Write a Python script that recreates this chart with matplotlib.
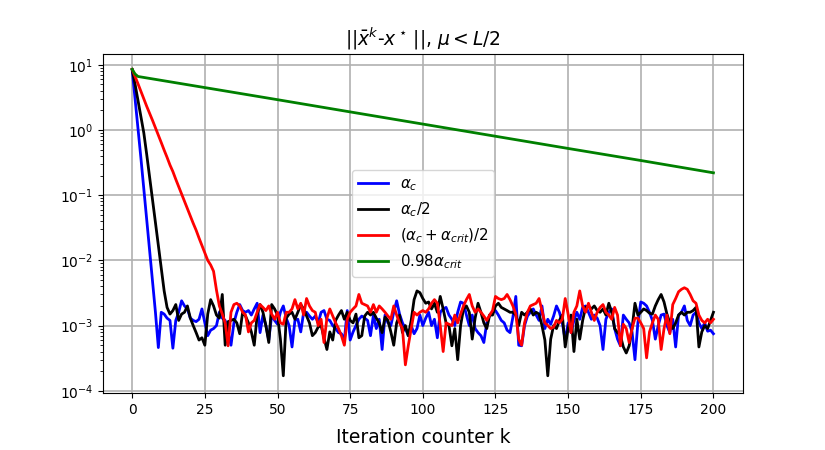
import numpy as np
import matplotlib
matplotlib.use("Agg")
import matplotlib.pyplot as plt

# values, error values per iteration k = 0..200
k = np.arange(201)

# alpha_c  (values after k=9 given in units of 1e-3)
blue_start = [8.4, 3.0, 1.1, 0.37, 0.125, 0.042, 0.014, 0.0047, 0.0016, 0.00046]
blue_rest = [
    1.6, 1.5, 1.3, 1.2, 0.45, 1.2, 1.6, 2.4, 2.0, 1.8,          # 10-19
    1.3, 1.2, 1.15, 1.25, 1.8, 1.1, 0.7, 0.85, 0.9, 1.0,        # 20-29
    1.6, 1.3, 1.2, 0.8, 0.5, 1.1, 1.6, 2.1, 1.7, 1.6,           # 30-39
    1.7, 1.45, 1.8, 2.2, 0.78, 1.45, 1.0, 0.6, 1.45, 1.2,       # 40-49
    1.05, 1.6, 2.0, 1.3, 1.0, 0.47, 1.2, 1.25, 0.8, 1.6,        # 50-59
    1.6, 1.4, 1.25, 1.4, 1.1, 1.6, 1.7, 1.25, 1.2, 1.0,         # 60-69
    0.9, 0.78, 0.75, 0.6, 1.7, 0.6, 0.8, 1.0, 1.25, 1.4,        # 70-79
    1.3, 1.2, 0.7, 1.45, 0.9, 1.25, 0.43, 1.45, 1.1, 1.0,       # 80-89
    1.6, 2.4, 1.5, 1.1, 0.9, 0.7, 1.0, 0.75, 0.9, 1.45,         # 90-99
    1.0, 1.3, 1.6, 1.0, 1.25, 0.65, 1.6, 1.8, 1.9, 1.45,        # 100-109
    1.25, 1.0, 1.6, 2.3, 2.2, 1.45, 1.0, 1.45, 0.9, 0.78,       # 110-119
    0.7, 0.55, 1.1, 1.45, 1.6, 1.7, 1.45, 1.2, 1.1, 0.85,       # 120-129
    0.78, 1.35, 2.8, 0.5, 0.49, 1.0, 1.4, 1.6, 1.8, 1.45,       # 130-139
    1.2, 2.0, 0.9, 1.25, 1.05, 1.4, 2.0, 1.6, 1.1, 0.6,         # 140-149
    1.1, 0.78, 1.2, 1.6, 1.25, 1.9, 2.0, 1.6, 1.25, 1.45,       # 150-159
    1.3, 1.0, 0.43, 1.25, 1.6, 1.8, 0.9, 0.62, 0.49, 1.45,      # 160-169
    1.25, 1.1, 0.8, 0.3, 1.1, 2.3, 2.2, 2.0, 1.6, 1.2,          # 170-179
    0.62, 1.0, 1.45, 1.5, 1.0, 0.78, 1.25, 0.47, 1.45, 1.6,     # 180-189
    2.0, 1.2, 1.0, 1.45, 1.6, 1.1, 0.9, 1.1, 0.82, 0.85,        # 190-199
    0.75,                                                       # 200
]

# alpha_c / 2
black_start = [8.4, 5.0, 2.8, 1.6, 0.9, 0.42, 0.19, 0.085, 0.038, 0.017,
               0.0075, 0.0034]
black_rest = [
    1.9, 1.5, 1.7, 2.1, 1.2, 1.5, 1.6, 2.0,                     # 12-19
    1.3, 1.0, 0.78, 0.6, 0.65, 0.5, 1.5, 2.5, 2.0, 1.45,        # 20-29
    1.3, 3.0, 0.5, 1.15, 1.2, 1.25, 1.1, 0.75, 1.6, 1.4,        # 30-39
    1.1, 0.8, 0.5, 1.45, 2.1, 1.6, 1.0, 0.55, 2.1, 1.8,         # 40-49
    1.45, 0.62, 0.17, 1.3, 1.5, 1.6, 1.25, 1.6, 2.1, 1.8,       # 50-59
    1.4, 1.1, 0.7, 0.78, 0.95, 1.0, 0.65, 0.43, 0.8, 0.6,       # 60-69
    1.2, 1.45, 1.7, 1.25, 1.6, 1.2, 1.1, 1.5, 0.65, 0.7,        # 70-79
    1.4, 1.6, 1.45, 1.6, 1.3, 1.1, 0.78, 1.35, 1.2, 0.8,        # 80-89
    0.5, 1.1, 1.45, 0.78, 1.0, 0.7, 1.2, 2.5, 3.4, 3.2,         # 90-99
    2.6, 2.2, 2.3, 1.8, 2.2, 1.6, 2.8, 1.8, 1.1, 1.0,           # 100-109
    0.49, 0.9, 0.3, 1.0, 1.8, 2.0, 1.6, 0.62, 1.3, 2.2,         # 110-119
    1.6, 1.1, 0.9, 1.45, 1.45, 2.0, 2.2, 1.9, 1.8, 1.7,         # 120-129
    1.6, 1.6, 1.45, 1.0, 1.6, 1.45, 1.6, 1.8, 1.45, 1.6,        # 130-139
    1.5, 1.0, 0.6, 0.17, 0.62, 1.0, 0.9, 1.2, 1.45, 0.47,       # 140-149
    0.9, 1.45, 0.4, 1.25, 0.62, 1.2, 1.9, 2.0, 1.8, 2.0,        # 150-159
    1.7, 1.6, 1.8, 1.45, 2.2, 1.6, 0.9, 0.78, 0.7, 0.47,        # 160-169
    0.38, 0.49, 0.9, 2.2, 1.45, 1.6, 1.8, 1.7, 1.55, 1.5,       # 170-179
    2.0, 2.5, 3.0, 2.3, 1.5, 1.1, 0.9, 1.1, 1.45, 1.6,          # 180-189
    1.45, 1.6, 1.6, 1.7, 1.9, 0.47, 0.8, 1.0, 0.9, 1.2,         # 190-199
    1.6,                                                        # 200
]

# (alpha_c + alpha_crit) / 2
red_start = [8.5, 6.6, 5.1, 3.9, 3.0, 2.3, 1.8, 1.4, 1.08, 0.83,
             0.64, 0.49, 0.38, 0.29, 0.23, 0.175, 0.135, 0.104, 0.080, 0.062,
             0.048, 0.037, 0.029, 0.022, 0.017, 0.013, 0.010, 0.0085, 0.0068,
             0.0035]
red_rest = [
    2.0, 1.5, 1.1, 0.49, 1.6, 2.1, 2.2, 2.0, 1.6, 1.45,         # 30-39
    0.8, 1.1, 1.2, 1.6, 2.1, 1.9, 1.7, 2.0, 1.5, 1.25,          # 40-49
    1.6, 1.1, 1.05, 1.6, 1.6, 1.8, 2.5, 1.8, 2.2, 1.45,         # 50-59
    2.6, 2.0, 1.7, 1.6, 1.0, 1.25, 0.55, 1.3, 1.8, 1.4,         # 60-69
    1.1, 0.9, 0.7, 0.5, 1.25, 1.6, 1.8, 2.0, 3.0, 2.2,          # 70-79
    2.1, 2.0, 1.6, 2.1, 1.6, 2.0, 1.8, 1.6, 1.4, 1.25,          # 80-89
    2.0, 1.45, 1.1, 0.9, 0.25, 0.49, 0.9, 1.6, 1.45, 1.6,       # 90-99
    1.7, 1.6, 1.8, 2.2, 2.5, 2.2, 1.0, 0.4, 1.1, 1.05,          # 100-109
    1.0, 1.45, 1.1, 1.5, 2.0, 2.5, 3.0, 2.0, 1.6, 1.8,          # 110-119
    1.6, 1.4, 1.2, 1.45, 1.7, 2.8, 2.6, 2.5, 2.6, 3.0,          # 120-129
    2.5, 2.0, 1.5, 0.62, 0.5, 1.1, 1.6, 2.0, 2.1, 2.2,          # 130-139
    2.6, 1.7, 1.1, 1.0, 0.9, 0.95, 1.2, 1.1, 1.25, 2.6,         # 140-149
    1.5, 0.78, 1.6, 2.0, 3.4, 2.0, 1.6, 2.2, 1.6, 1.2,          # 150-159
    1.6, 1.9, 2.1, 1.6, 1.45, 1.25, 1.9, 1.45, 0.49, 1.05,      # 160-169
    0.9, 0.55, 0.9, 1.3, 1.3, 1.1, 0.9, 0.32, 0.8, 1.1,         # 170-179
    1.45, 1.25, 0.43, 0.9, 1.45, 0.75, 2.1, 2.6, 3.3, 3.6,      # 180-189
    3.8, 3.6, 3.0, 2.4, 2.2, 1.45, 1.2, 1.1, 1.25, 1.1,         # 190-199
    1.25,                                                       # 200
]

# 0.98 alpha_crit (straight on the log scale after k=2)
green_k = [0, 1, 2, 25, 50, 75, 100, 125, 150, 175, 200]
green_vals = [8.5, 7.2, 6.6, 4.46, 2.91, 1.89, 1.23, 0.80, 0.52, 0.34, 0.22]

blue = np.array(blue_start + [v * 1e-3 for v in blue_rest])
black = np.array(black_start + [v * 1e-3 for v in black_rest])
red = np.array(red_start + [v * 1e-3 for v in red_rest])

fig = plt.figure(figsize=(8.25, 4.5), dpi=100)
ax = fig.add_axes([0.125, 0.127, 0.775, 0.753])
ax.semilogy(k, blue, color='b', lw=2, label=r'$\alpha_c$')
ax.semilogy(k, black, color='k', lw=2, label=r'$\alpha_c/2$')
ax.semilogy(k, red, color='r', lw=2, label=r'$(\alpha_c + \alpha_{crit})/2$')
ax.semilogy(green_k, green_vals, color='g', lw=2, label=r'$0.98\alpha_{crit}$')
ax.set_xlim(-10, 210)
ax.set_ylim(9.3e-5, 14.6)
ax.grid(True, lw=1.2)
ax.legend(loc='center', fontsize=10.8)
ax.set_title(r'$||\bar{x}^k$-$x^\star\,||$, $\mu < L/2$', fontsize=13.5)
ax.set_xlabel('Iteration counter k', fontsize=13.5, labelpad=8)
fig.savefig('out.png', dpi=100)
